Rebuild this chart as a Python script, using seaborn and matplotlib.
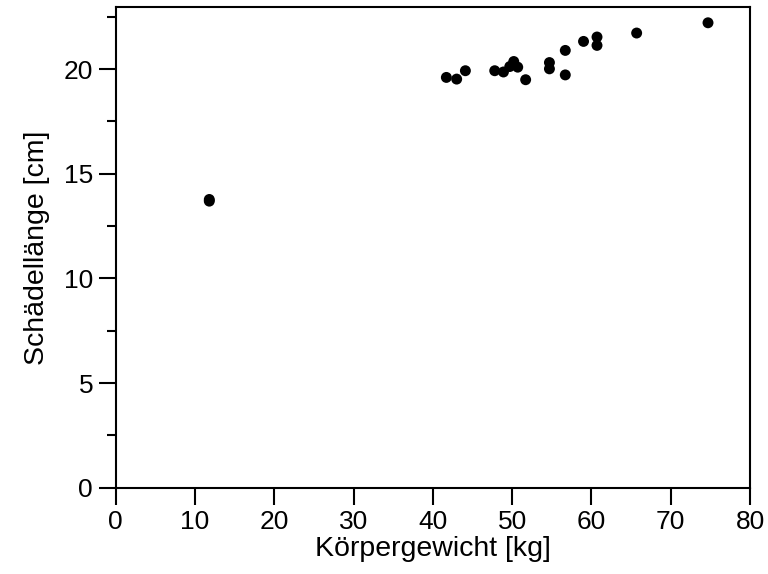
import matplotlib
matplotlib.use("Agg")
import matplotlib.pyplot as plt
import seaborn as sns
import pandas as pd
from matplotlib.ticker import MultipleLocator

gewicht = [11.8, 11.8, 41.7, 43.0, 44.1, 47.8, 48.9, 49.7, 50.2, 50.7, 51.7,
           54.7, 54.7, 56.7, 56.7, 59.0, 60.7, 60.7, 65.7, 74.7]
schaedel = [13.69, 13.77, 19.60, 19.52, 19.92, 19.92, 19.86, 20.12, 20.36, 20.09, 19.49,
            20.31, 20.01, 20.89, 19.72, 21.32, 21.53, 21.13, 21.72, 22.21]
x_ticks = [0, 10, 20, 30, 40, 50, 60, 70, 80]
y_ticks = [0, 5, 10, 15, 20]

df = pd.DataFrame({"Körpergewicht [kg]": gewicht, "Schädellänge [cm]": schaedel})

sns.set_style("ticks")
plt.rcParams['font.family'] = ['Liberation Sans', 'DejaVu Sans']
plt.rcParams['text.color'] = 'black'
plt.rcParams['axes.labelcolor'] = 'black'

fig = plt.figure(figsize=(7.68, 5.74), dpi=100)
ax = fig.add_axes([0.1507, 0.1503, 0.8259, 0.8370])

sns.scatterplot(data=df, x="Körpergewicht [kg]", y="Schädellänge [cm]", ax=ax,
                color="black", s=62, linewidth=0, edgecolor="none", zorder=3)

ax.set_xlim(0, 80)
ax.set_ylim(0, 22.95)
ax.set_xticks(x_ticks)
ax.set_yticks(y_ticks)
ax.yaxis.set_minor_locator(MultipleLocator(2.5))

for s in ax.spines.values():
    s.set_linewidth(1.5)
    s.set_color("black")
    s.set_visible(True)

ax.tick_params(axis="both", which="major", direction="out", length=12.3, width=1.5,
               labelsize=19, colors="black", labelcolor="black", pad=4)
ax.tick_params(axis="y", which="minor", direction="out", length=6.5, width=1.5, colors="black")
ax.tick_params(axis="x", which="minor", length=0)

ax.set_xlabel("Körpergewicht [kg]", fontsize=20.5, labelpad=1, color="black")
ax.set_ylabel("Schädellänge [cm]", fontsize=20.5, labelpad=10, color="black")

fig.savefig("out.png", dpi=100)
